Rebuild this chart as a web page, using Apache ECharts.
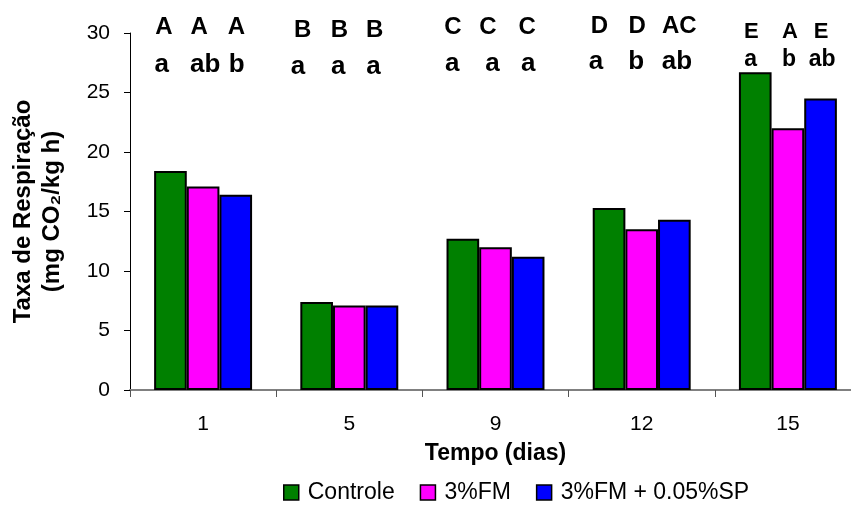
<!DOCTYPE html>
<html>
<head>
<meta charset="utf-8">
<script src="https://cdn.jsdelivr.net/npm/echarts@6/dist/echarts.min.js"></script>
<style>html,body{margin:0;padding:0;background:#fff}#c{width:851px;height:507px}</style>
</head>
<body>
<div id="c"></div>
<script>
// ---- data ----
const categories = ['1', '5', '9', '12', '15'];
const controle = [18.4, 7.4, 12.7, 15.3, 26.7];
const fm = [17.1, 7.1, 12.0, 13.5, 22.0];
const fmsp = [16.4, 7.1, 11.2, 14.3, 24.5];
const seriesNames = ['Controle', '3%FM', '3%FM + 0.05%SP'];
// significance letters (upper row / lower row), per series
const upperControle = ['A', 'B', 'C', 'D', 'E'];
const upperFM = ['A', 'B', 'C', 'D', 'A'];
const upperSP = ['A', 'B', 'C', 'AC', 'E'];
const lowerControle = ['a', 'a', 'a', 'a', 'a'];
const lowerFM = ['ab', 'a', 'a', 'b', 'b'];
const lowerSP = ['b', 'a', 'a', 'ab', 'ab'];

// ---- layout / style ----
const FONT = '"Liberation Sans", Arial, sans-serif';
const colors = ['#008000', '#FF00FF', '#0000FF'];
const CAT_GAP = 0.33;
const upperLevel = [30.46, 30.25, 30.46, 30.55, 30.12];
const lowerLevel = [27.34, 27.13, 27.38, 27.59, 27.72];
const upperSize = [24, 24, 24, 24, 22];
const lowerSize = [26, 26, 26, 26, 23];
const upperNudge = [[-6.6, -14, -10, -9.6, -4], [-4, -10, -7.5, -4.5, 2], [0.6, -7.4, -1, 5, 0.6]];
const lowerNudge = [[-8.6, -18.6, -10.6, -13, -4.6], [2, -11, -3, -5.5, 1], [1, -8.4, 0, 2.6, 1.6]];

const uppers = [upperControle, upperFM, upperSP];
const lowers = [lowerControle, lowerFM, lowerSP];
const annot = [];
const annotData = [];
for (let s = 0; s < 3; s++) {
  for (let g = 0; g < categories.length; g++) {
    annot.push({ text: uppers[s][g], size: upperSize[g], dx: upperNudge[s][g] });
    annotData.push([g, s, upperLevel[g]]);
    annot.push({ text: lowers[s][g], size: lowerSize[g], dx: lowerNudge[s][g] });
    annotData.push([g, s, lowerLevel[g]]);
  }
}

const values = [controle, fm, fmsp];
const barSeries = values.map((v, i) => ({
  name: seriesNames[i],
  type: 'bar',
  data: v,
  barGap: '0%',
  barCategoryGap: (CAT_GAP * 100) + '%',
  itemStyle: { color: colors[i], borderColor: '#000', borderWidth: 2 }
}));

const chart = echarts.init(document.getElementById('c'), null, { renderer: 'canvas' });
chart.setOption({
  animation: false,
  backgroundColor: '#fff',
  textStyle: { fontFamily: FONT },
  grid: { left: 130, right: -10, top: 33, bottom: 117, containLabel: false, outerBoundsMode: 'none' },
  legend: {
    data: seriesNames,
    left: 278,
    top: 476,
    itemWidth: 15,
    itemHeight: 15,
    itemGap: 25,
    icon: 'rect',
    itemStyle: { borderWidth: 1.5 },
    textStyle: { fontSize: 23, color: '#000', fontFamily: FONT, padding: [0, 0, 0, 4] }
  },
  xAxis: {
    type: 'category',
    data: categories,
    name: 'Tempo (dias)',
    nameLocation: 'middle',
    nameGap: 52,
    nameTextStyle: { fontSize: 23, fontWeight: 'bold', color: '#000', fontFamily: FONT },
    axisLine: { lineStyle: { color: '#808080', width: 2 } },
    axisTick: { show: true, length: 7, lineStyle: { color: '#555', width: 1 } },
    axisLabel: { fontSize: 21, color: '#000', margin: 24, fontFamily: FONT },
    splitLine: { show: false }
  },
  yAxis: {
    type: 'value',
    min: 0,
    max: 30,
    interval: 5,
    name: 'Taxa de Respiração\n(mg CO\u2082/kg h)',
    nameLocation: 'middle',
    nameGap: 63,
    nameTextStyle: { fontSize: 24, fontWeight: 'bold', color: '#000', lineHeight: 29, fontFamily: FONT },
    axisLine: { show: true, lineStyle: { color: '#000', width: 1 } },
    axisTick: { show: true, length: 6, lineStyle: { color: '#000', width: 1 } },
    axisLabel: { fontSize: 21, color: '#000', margin: 20, fontFamily: FONT },
    splitLine: { show: false }
  },
  series: barSeries.concat([{
    type: 'custom',
    name: 'letters',
    silent: true,
    clip: false,
    z: 10,
    encode: { x: 0, y: 2 },
    data: annotData,
    renderItem: function (params, api) {
      const g = api.value(0), s = api.value(1), lvl = api.value(2);
      const p = api.coord([g, lvl]);
      const band = api.size([1, 0])[0];
      const bw = band * (1 - CAT_GAP) / 3;
      const it = annot[params.dataIndex];
      return {
        type: 'text',
        x: p[0] + (s - 1) * bw + it.dx,
        y: p[1],
        style: {
          text: it.text,
          fill: '#000',
          font: 'bold ' + it.size + 'px ' + FONT,
          align: 'center',
          verticalAlign: 'middle'
        }
      };
    }
  }])
});
</script>
</body>
</html>
